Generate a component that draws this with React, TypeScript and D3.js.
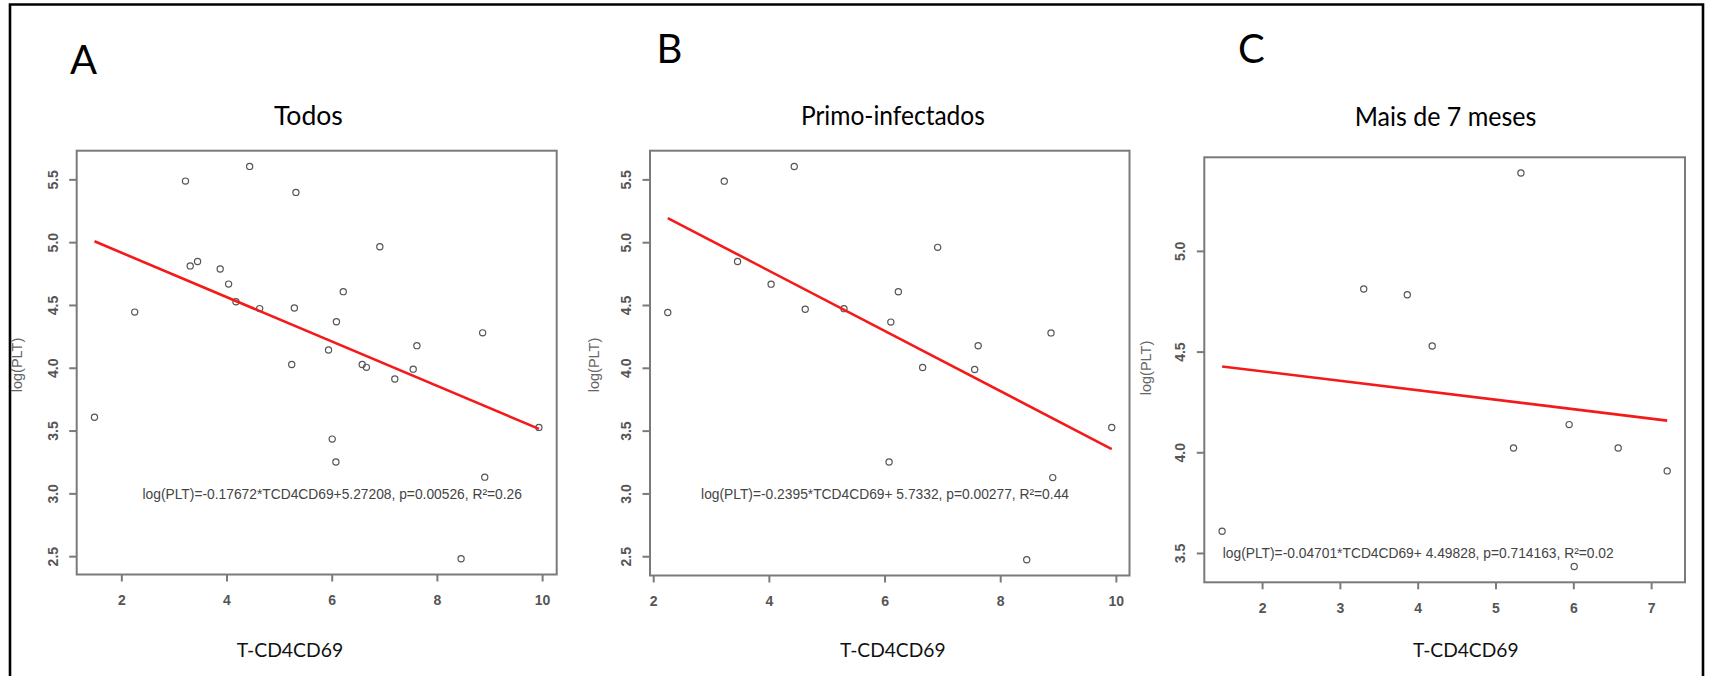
import React, { useEffect, useRef } from 'react';
import * as d3 from 'd3';

// ---------- data ----------
// A: Todos
const todosX = [1.48, 2.245, 3.21, 3.30, 3.44, 3.87, 4.03, 4.17, 4.43, 4.62, 5.23, 5.28, 5.31, 5.93,
  6.00, 6.08, 6.07, 6.21, 6.57, 6.65, 6.905, 7.19, 7.54, 7.61, 8.45, 8.86, 8.90, 9.93];
const todosY = [3.61, 4.447, 5.49, 4.815, 4.85, 4.79, 4.67, 4.53, 5.607, 4.475, 4.03, 4.48, 5.40, 4.145,
  3.436, 4.37, 3.254, 4.61, 4.03, 4.007, 4.967, 3.914, 3.993, 4.18, 2.483, 4.282, 3.133, 3.529];

// B: Primo-infectados
const primoX = [2.243, 3.22, 3.45, 4.03, 4.43, 4.62, 5.29, 6.07, 6.10, 6.23, 6.65, 6.91, 7.55, 7.61,
  8.45, 8.87, 8.90, 9.92];
const primoY = [4.444, 5.49, 4.85, 4.67, 5.607, 4.47, 4.475, 3.254, 4.368, 4.61, 4.007, 4.963, 3.99, 4.18,
  2.476, 4.282, 3.13, 3.529];

// C: Mais de 7 meses
const maisX = [1.48, 3.30, 3.86, 4.18, 5.225, 5.32, 5.94, 6.005, 6.57, 7.20];
const maisY = [3.61, 4.813, 4.785, 4.53, 4.024, 5.389, 4.14, 3.435, 4.024, 3.91];

const panelLetters = ['A', 'B', 'C'];
const panelTitles = ['Todos', 'Primo-infectados', 'Mais de 7 meses'];
const xTicksAB = [2, 4, 6, 8, 10];
const xTicksC = [2, 3, 4, 5, 6, 7];
const yTicksAB = [2.5, 3.0, 3.5, 4.0, 4.5, 5.0, 5.5];
const yTicksC = [3.5, 4.0, 4.5, 5.0];

// regression fits (slope, intercept) and the printed equations
const slopes = [-0.17672, -0.2395, -0.04701];
const intercepts = [5.27208, 5.7332, 4.49828];
const equations = [
  'log(PLT)=-0.17672*TCD4CD69+5.27208, p=0.00526, R²=0.26',
  'log(PLT)=-0.2395*TCD4CD69+ 5.7332, p=0.00277, R²=0.44',
  'log(PLT)=-0.04701*TCD4CD69+ 4.49828, p=0.714163, R²=0.02',
];
// where the equation text sits, in data units (like R's text(x, y))
const equationX = [6, 6, 4];
const equationY = [3, 3, 3.5];

const xLabel = 'T-CD4CD69';
const yLabel = 'log(PLT)';

// ---------- layout of each panel (page pixels) ----------
// the figure text is in a narrow font (Calibri like), so widths are pinned with textLength
const layout = [
  { left: 76.7, right: 556.7, top: 150.7, bottom: 574.5, letterX: 70, letterY: 74, titleX: 308.4, titleY: 125, titleW: 69, xlabX: 290, xlabY: 657, xlabW: 106.5, ylabX: 22, ylabY: 365 },
  { left: 650, right: 1129.5, top: 150.7, bottom: 575.5, letterX: 656.5, letterY: 63, titleX: 892.9, titleY: 124.5, titleW: 184, xlabX: 892.8, xlabY: 657, xlabW: 105.5, ylabX: 599, ylabY: 365 },
  { left: 1204.3, right: 1685, top: 157.3, bottom: 582.3, letterX: 1238, letterY: 63, titleX: 1445.5, titleY: 125.5, titleW: 181.7, xlabX: 1465.8, xlabY: 656.5, xlabW: 105.5, ylabX: 1151, ylabY: 368 },
];

const xs = [todosX, primoX, maisX];
const ys = [todosY, primoY, maisY];
const xTicks = [xTicksAB, xTicksAB, xTicksC];
const yTicks = [yTicksAB, yTicksAB, yTicksC];

// R style axis range: data extent plus 4% on each side
const padded = (vals: number[]) => {
  const [lo, hi] = d3.extent(vals) as [number, number];
  const pad = (hi - lo) * 0.04;
  return [lo - pad, hi + pad];
};

export default function App() {
  const ref = useRef<SVGSVGElement>(null);

  useEffect(() => {
    const svg = d3.select(ref.current);
    svg.selectAll('*').remove();

    svg.append('rect').attr('width', 1711).attr('height', 676).attr('fill', '#fff');

    // outer frame (no bottom edge in the figure)
    svg.append('path')
      .attr('d', 'M10,676 L10,4.5 L1703,4.5 L1703,676')
      .attr('fill', 'none')
      .attr('stroke', '#000')
      .attr('stroke-width', 2.6);

    layout.forEach((p, i) => {
      const xScale = d3.scaleLinear().domain(padded(xs[i])).range([p.left, p.right]);
      const yScale = d3.scaleLinear().domain(padded(ys[i])).range([p.bottom, p.top]);
      const g = svg.append('g');

      // ------- letters and titles -------
      g.append('text')
        .attr('x', p.letterX).attr('y', p.letterY)
        .attr('font-family', 'Lato, "Open Sans", sans-serif')
        .attr('font-size', 40)
        .attr('fill', '#000')
        .text(panelLetters[i]);

      g.append('text')
        .attr('x', p.titleX).attr('y', p.titleY)
        .attr('text-anchor', 'middle')
        .attr('font-family', 'Lato, "Open Sans", sans-serif')
        .attr('font-size', 26.5)
        .attr('textLength', p.titleW)
        .attr('lengthAdjust', 'spacingAndGlyphs')
        .attr('fill', '#000')
        .text(panelTitles[i]);

      g.append('text')
        .attr('x', p.xlabX).attr('y', p.xlabY)
        .attr('text-anchor', 'middle')
        .attr('font-family', 'Lato, "Open Sans", sans-serif')
        .attr('font-size', 19.5)
        .attr('textLength', p.xlabW)
        .attr('lengthAdjust', 'spacingAndGlyphs')
        .attr('fill', '#111')
        .text(xLabel);

      g.append('text')
        .attr('transform', `translate(${p.ylabX},${p.ylabY}) rotate(-90)`)
        .attr('text-anchor', 'middle')
        .attr('font-family', '"Liberation Sans", Arial, sans-serif')
        .attr('font-size', 14.5)
        .attr('fill', '#666')
        .text(yLabel);

      // ------- box -------
      g.append('rect')
        .attr('x', p.left).attr('y', p.top)
        .attr('width', p.right - p.left).attr('height', p.bottom - p.top)
        .attr('fill', 'none')
        .attr('stroke', '#7a7a7a')
        .attr('stroke-width', 2);

      // ------- AXIS ticks -------
      const xt = g.append('g');
      xt.selectAll('line').data(xTicks[i]).enter().append('line')
        .attr('x1', d => xScale(d)).attr('x2', d => xScale(d))
        .attr('y1', p.bottom).attr('y2', p.bottom + 7)
        .attr('stroke', '#7a7a7a').attr('stroke-width', 2);
      xt.selectAll('text').data(xTicks[i]).enter().append('text')
        .attr('x', d => xScale(d)).attr('y', p.bottom + 30.5)
        .attr('text-anchor', 'middle')
        .attr('font-family', '"Liberation Sans", Arial, sans-serif')
        .attr('font-size', 14)
        .attr('font-weight', 'bold')
        .attr('fill', '#555')
        .text(d => String(d));

      const yt = g.append('g');
      yt.selectAll('line').data(yTicks[i]).enter().append('line')
        .attr('x1', p.left - 7.5).attr('x2', p.left)
        .attr('y1', d => yScale(d)).attr('y2', d => yScale(d))
        .attr('stroke', '#7a7a7a').attr('stroke-width', 2);
      yt.selectAll('text').data(yTicks[i]).enter().append('text')
        .attr('transform', d => `translate(${p.left - 19},${yScale(d)}) rotate(-90)`)
        .attr('text-anchor', 'middle')
        .attr('font-family', '"Liberation Sans", Arial, sans-serif')
        .attr('font-size', 14)
        .attr('font-weight', 'bold')
        .attr('fill', '#555')
        .text(d => d3.format('.1f')(d));

      // ------------- data points -----------------
      g.append('g').selectAll('circle')
        .data(xs[i].map((x, k) => [x, ys[i][k]]))
        .enter().append('circle')
        .attr('cx', d => xScale(d[0]))
        .attr('cy', d => yScale(d[1]))
        .attr('r', 3.1)
        .attr('fill', 'none')
        .attr('stroke', '#555')
        .attr('stroke-width', 1.2);

      // ------------- regression line -----------------
      const [x0, x1] = d3.extent(xs[i]) as [number, number];
      const line = d3.line<number>()
        .x(d => xScale(d))
        .y(d => yScale(slopes[i] * d + intercepts[i]));
      g.append('path')
        .attr('d', line([x0, x1]))
        .attr('fill', 'none')
        .attr('stroke', '#f41a1a')
        .attr('stroke-width', 2.6);

      // equation
      g.append('text')
        .attr('x', xScale(equationX[i])).attr('y', yScale(equationY[i]) + 5)
        .attr('text-anchor', 'middle')
        .attr('font-family', '"Liberation Sans", Arial, sans-serif')
        .attr('font-size', 13.8)
        .attr('fill', '#444')
        .text(equations[i]);
    });
  }, []);

  return (
    <svg ref={ref} width={1711} height={676}
      style={{ position: 'absolute', left: 0, top: 0, display: 'block' }} />
  );
}
